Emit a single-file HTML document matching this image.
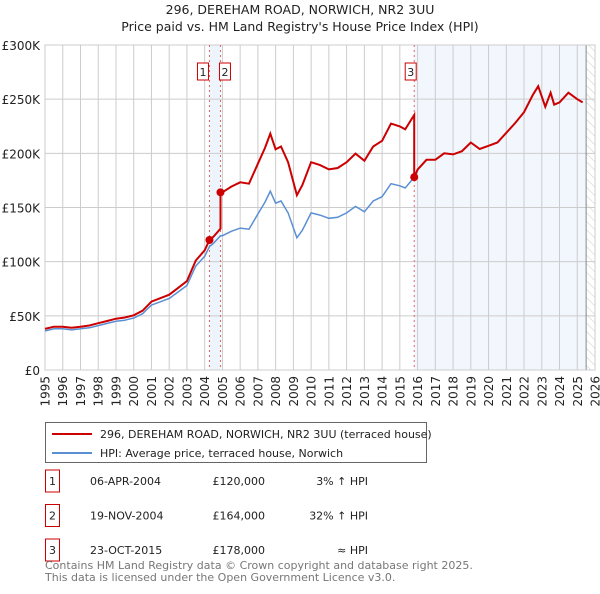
<!DOCTYPE html>
<html><head><meta charset="utf-8"><style>
body{margin:0;background:#fff;font-family:"DejaVu Sans","Liberation Sans",sans-serif;}
svg text{font-family:"DejaVu Sans","Liberation Sans",sans-serif;}
</style></head><body>
<svg id="c" width="600" height="590" xmlns="http://www.w3.org/2000/svg">
<defs><pattern id="hatch" width="6" height="6" patternUnits="userSpaceOnUse" patternTransform="rotate(-45)"><line x1="0" y1="0" x2="0" y2="6" stroke="#ccc" stroke-width="1"/></pattern></defs>
<text x="300" y="14" text-anchor="middle" font-size="12.5" fill="#222">296, DEREHAM ROAD, NORWICH, NR2 3UU</text>
<text x="300" y="31" text-anchor="middle" font-size="12.5" fill="#222">Price paid vs. HM Land Registry's House Price Index (HPI)</text>
<g id="plot"></g>
<g>
<rect x="45.5" y="422.5" width="381" height="40" fill="#fff" stroke="#666"/>
<line x1="52" y1="434" x2="92" y2="434" stroke="#cc0000" stroke-width="2"/>
<text x="100" y="438" font-size="11" fill="#222">296, DEREHAM ROAD, NORWICH, NR2 3UU (terraced house)</text>
<line x1="52" y1="453" x2="92" y2="453" stroke="#5b8fd4" stroke-width="2"/>
<text x="100" y="457" font-size="11" fill="#222">HPI: Average price, terraced house, Norwich</text>
</g>
<g id="table" font-size="11" fill="#222"></g>
<text x="45" y="569" font-size="11" fill="#777">Contains HM Land Registry data © Crown copyright and database right 2025.</text>
<text x="45" y="581" font-size="11" fill="#777">This data is licensed under the Open Government Licence v3.0.</text>
</svg>
<script>
const hpiDates=[1995,1995.5,1996,1996.5,1997,1997.5,1998,1998.5,1999,1999.5,2000,2000.5,2001,2001.5,2002,2002.5,2003,2003.5,2004,2004.27,2004.5,2004.89,2005,2005.5,2006,2006.5,2007,2007.4,2007.7,2008,2008.3,2008.7,2009.2,2009.5,2010,2010.5,2011,2011.5,2012,2012.5,2013,2013.5,2014,2014.5,2015,2015.3,2015.81,2016,2016.5,2017,2017.5,2018,2018.5,2019,2019.5,2020,2020.5,2021,2021.5,2022,2022.5,2022.8,2023.2,2023.5,2023.7,2024,2024.5,2025,2025.3];
const hpiValues=[36,38,38,37,38,39,41,43,45,46,48,52,60,63,66,72,78,96,105,114,117,124,124,128,131,130,144,155,165,154,156,145,122,129,145,143,140,141,145,151,146,156,160,172,170,168,178,185,194,194,200,199,202,210,204,207,210,219,228,238,254,262,243,256,245,247,256,250,247];
const saleDates=[2004.27,2004.89,2015.81];
const salePrices=[120,164,178];
const saleLabels=["1","2","3"];
const saleDateText=["06-APR-2004","19-NOV-2004","23-OCT-2015"];
const salePriceText=["£120,000","£164,000","£178,000"];
const saleHpiText=["3% ↑ HPI","32% ↑ HPI","≈ HPI"];
const yTicks=[0,50,100,150,200,250,300];
const yTickLabels=["£0","£50K","£100K","£150K","£200K","£250K","£300K"];
const xYears=[];for(let y=1995;y<=2026;y++)xYears.push(y);

const NS="http://www.w3.org/2000/svg";
const L=45,R=595,T=45,B=370;
const X=d=>L+(d-1995)/(2026-1995)*(R-L);
const Y=v=>B-v/300*(B-T);
const g=document.getElementById('plot');
function mk(t,a,p){const e=document.createElementNS(NS,t);for(const k in a)e.setAttribute(k,a[k]);(p||g).appendChild(e);return e;}
function hpiAt(d){for(let i=0;i<hpiDates.length-1;i++){if(d<=hpiDates[i+1]){const f=(d-hpiDates[i])/(hpiDates[i+1]-hpiDates[i]);return hpiValues[i]+f*(hpiValues[i+1]-hpiValues[i]);}}return hpiValues[hpiValues.length-1];}
let e=mk('rect',{x:X(saleDates[0]),y:T,width:X(saleDates[1])-X(saleDates[0]),height:B-T,fill:'#eef4fc'});


e=mk('rect',{x:X(saleDates[2]),y:T,width:X(2025.5)-X(saleDates[2]),height:B-T,fill:'#f2f6fd'});


e=mk('rect',{x:X(2025.5),y:T,width:R-X(2025.5),height:B-T,fill:'url(#hatch)'});


yTicks.forEach((v,i)=>{
 let l=mk('line',{x1:L,x2:R,y1:Y(v),y2:Y(v),stroke:'#ccc'});
 
 
 let t=mk('text',{x:L-5,y:Y(v)+5,'text-anchor':'end','font-size':'12',fill:'#222'});t.textContent=yTickLabels[i];
 
 
});
xYears.forEach(y=>{
 let l=mk('line',{x1:X(y),x2:X(y),y1:T,y2:B,stroke:'#ccc'});
 
 
 let t=mk('text',{x:0,y:0,'text-anchor':'end','font-size':'12',fill:'#222',transform:`translate(${X(y)+4.5},376) rotate(-90)`});t.textContent=y;
 
 
});
e=mk('line',{x1:X(2025.5),x2:X(2025.5),y1:T,y2:B,stroke:'#888'});


e=mk('rect',{x:L,y:T,width:R-L,height:B-T,fill:'none',stroke:'#ccc'});


saleDates.forEach((d,i)=>{
 let l=mk('line',{x1:X(d),x2:X(d),y1:T,y2:B,stroke:'#e06666','stroke-dasharray':'2,3'});
 
 
});
let pts=hpiDates.map((d,i)=>X(d).toFixed(1)+','+Y(hpiValues[i]).toFixed(1)).join(' ');
e=mk('polyline',{points:pts,fill:'none',stroke:'#5b8fd4','stroke-width':1.5});


let rp=[];
for(let i=0;i<hpiDates.length;i++){
 const d=hpiDates[i];let k=-1;for(let j=0;j<saleDates.length;j++)if(d>=saleDates[j])k=j;
 let ratio=k<0?salePrices[0]/hpiAt(saleDates[0]):salePrices[k]/hpiAt(saleDates[k]);
 if(k>=0&&Math.abs(d-saleDates[k])<1e-6&&k>0){const pr=salePrices[k-1]/hpiAt(saleDates[k-1]);rp.push([d,hpiValues[i]*pr]);}
 rp.push([d,hpiValues[i]*ratio]);
}
e=mk('polyline',{points:rp.map(p=>X(p[0]).toFixed(1)+','+Y(p[1]).toFixed(1)).join(' '),fill:'none',stroke:'#cc0000','stroke-width':2});


saleDates.forEach((d,i)=>{
 let c=mk('circle',{cx:X(d),cy:Y(salePrices[i]),r:4,fill:'#cc0000'});
 
 
 const bx=i==0?X(d)-12:(i==1?X(d)-1:X(d)-9);
 let r=mk('rect',{x:bx,y:63,width:11,height:17,fill:'#fff',stroke:'#cc0000'});
 
 
 let t=mk('text',{x:bx+5.5,y:76,'text-anchor':'middle','font-size':'11',fill:'#222'});t.textContent=saleLabels[i];
 
 
});
const tb=document.getElementById('table');
saleLabels.forEach((s,i)=>{
 const yy=477+i*34.5;
 let r=mk('rect',{x:45.5,y:yy-7,width:14,height:22,fill:'#fff',stroke:'#cc0000'},tb);
 
 
 const cells=[[52.5,s,'middle'],[90,saleDateText[i],'start'],[265,salePriceText[i],'end'],[368,saleHpiText[i],'end']];
 cells.forEach(c=>{let t=mk('text',{x:c[0],y:yy+8,'text-anchor':c[2]},tb);t.textContent=c[1];
  
  });
});
</script>
</body></html>
